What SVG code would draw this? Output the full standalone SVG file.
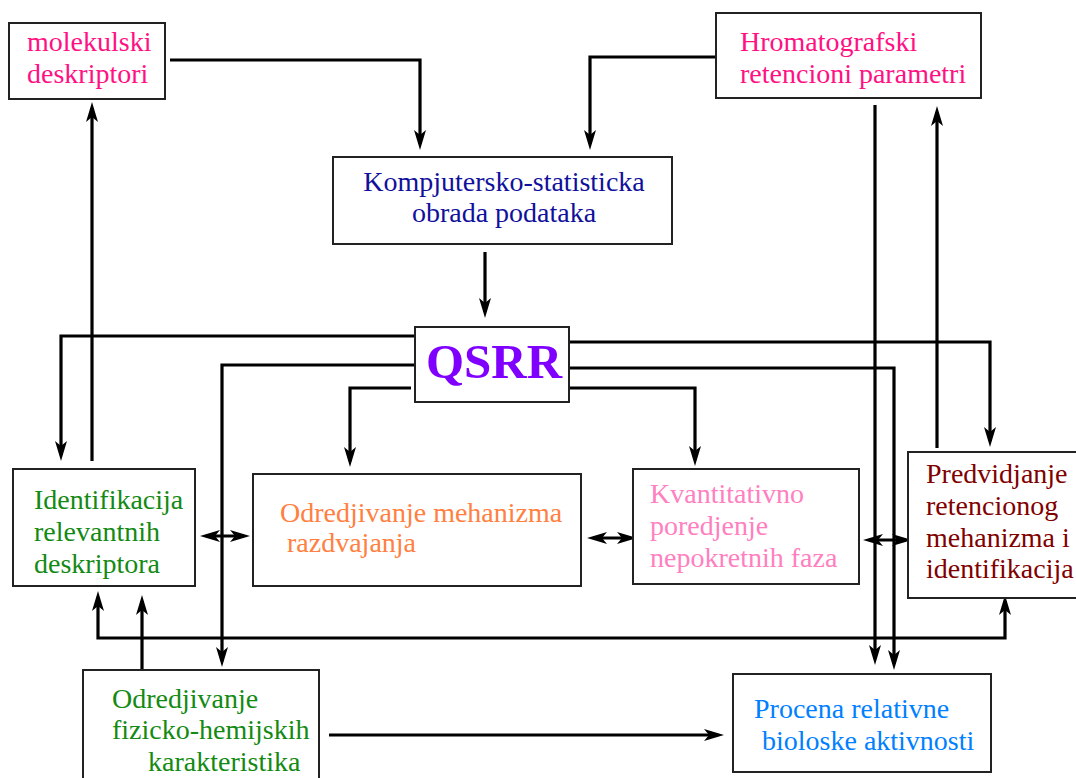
<svg xmlns="http://www.w3.org/2000/svg" width="1076" height="778" viewBox="0 0 1076 778">
<style>
.box{fill:#fff;stroke:#222;stroke-width:2}
.t{font-family:"Liberation Serif","Times New Roman",serif;font-size:28px}
.c{fill:none;stroke:#000;stroke-width:3.2;marker-end:url(#ah)}
.d{marker-start:url(#ah)}
</style>
<defs>
<marker id="ah" viewBox="0 0 20 12" refX="14" refY="6" markerWidth="20" markerHeight="12" markerUnits="userSpaceOnUse" orient="auto-start-reverse">
<path d="M0,0 L20,6 L0,12 L5,6 Z" fill="#000"/>
</marker>
</defs>
<rect width="1076" height="778" fill="#fff"/>
<g id="connectors">
<path class="c" d="M170,60 H420 V144"/>
<path class="c" d="M716,57 H590 V144"/>
<path class="c" d="M485,252 V312"/>
<path class="c" d="M414,336 H61 V455"/>
<path class="c" d="M92,461 V108"/>
<path class="c" d="M420,365 H222 V661"/>
<path class="c" d="M411,388 H350 V461"/>
<path class="c" d="M569,342 H990 V441"/>
<path class="c" d="M569,368 H894 V664"/>
<path class="c" d="M569,388 H695 V460"/>
<path class="c" d="M875,105 V659"/>
<path class="c" d="M937,448 V112"/>
<path class="c d" d="M206,536 H244"/>
<path class="c d" d="M593,538 H631"/>
<path class="c d" d="M869,540 H906"/>
<path class="c d" d="M98,597 V638 H1005 V601"/>
<path class="c" d="M142,670 V601"/>
<path class="c" d="M329,735 H718"/>
</g>
<g id="molekulski">
<rect class="box" x="9" y="23" width="156" height="76"/>
<text class="t" fill="#ff1083" x="27" y="51">molekulski</text>
<text class="t" fill="#ff1083" x="27" y="83">deskriptori</text>
</g>
<g id="hromatografski">
<rect class="box" x="716" y="13" width="265" height="85"/>
<text class="t" fill="#ff1083" x="740" y="51">Hromatografski</text>
<text class="t" fill="#ff1083" x="740" y="83">retencioni parametri</text>
</g>
<g id="kompjutersko">
<rect class="box" x="333" y="157" width="339" height="87"/>
<text class="t" fill="#10109c" x="504" y="191" text-anchor="middle">Kompjutersko-statisticka</text>
<text class="t" fill="#10109c" x="504" y="222" text-anchor="middle">obrada podataka</text>
</g>
<g id="qsrr">
<rect class="box" x="415" y="327" width="154" height="75"/>
<text fill="#8000ff" x="494" y="378" text-anchor="middle" style="font-family:'Liberation Serif','Times New Roman',serif;font-size:49px;font-weight:bold">QSRR</text>
</g>
<g id="identifikacija">
<rect class="box" x="13" y="469" width="182" height="117"/>
<text class="t" fill="#138a13" x="34" y="509">Identifikacija</text>
<text class="t" fill="#138a13" x="34" y="541">relevantnih</text>
<text class="t" fill="#138a13" x="34" y="573">deskriptora</text>
</g>
<g id="mehanizam">
<rect class="box" x="253" y="474" width="328" height="112"/>
<text class="t" fill="#ff8040" x="280" y="522">Odredjivanje mehanizma</text>
<text class="t" fill="#ff8040" x="287" y="552">razdvajanja</text>
</g>
<g id="kvantitativno">
<rect class="box" x="633" y="469" width="226" height="115"/>
<text class="t" fill="#ff80c0" x="650" y="503">Kvantitativno</text>
<text class="t" fill="#ff80c0" x="650" y="535">poredjenje</text>
<text class="t" fill="#ff80c0" x="650" y="567">nepokretnih faza</text>
</g>
<g id="predvidjanje">
<rect class="box" x="908" y="452" width="190" height="146"/>
<text class="t" fill="#800000" x="926" y="483">Predvidjanje</text>
<text class="t" fill="#800000" x="926" y="515">retencionog</text>
<text class="t" fill="#800000" x="926" y="547">mehanizma i</text>
<text class="t" fill="#800000" x="926" y="578">identifikacija</text>
</g>
<g id="fizicko">
<rect class="box" x="83" y="670" width="236" height="110"/>
<text class="t" fill="#138a13" x="112" y="708">Odredjivanje</text>
<text class="t" fill="#138a13" x="112" y="739">fizicko-hemijskih</text>
<text class="t" fill="#138a13" x="148" y="771">karakteristika</text>
</g>
<g id="procena">
<rect class="box" x="733" y="674" width="258" height="98"/>
<text class="t" fill="#0080ff" x="754" y="718">Procena relativne</text>
<text class="t" fill="#0080ff" x="762" y="750">bioloske aktivnosti</text>
</g>
</svg>
